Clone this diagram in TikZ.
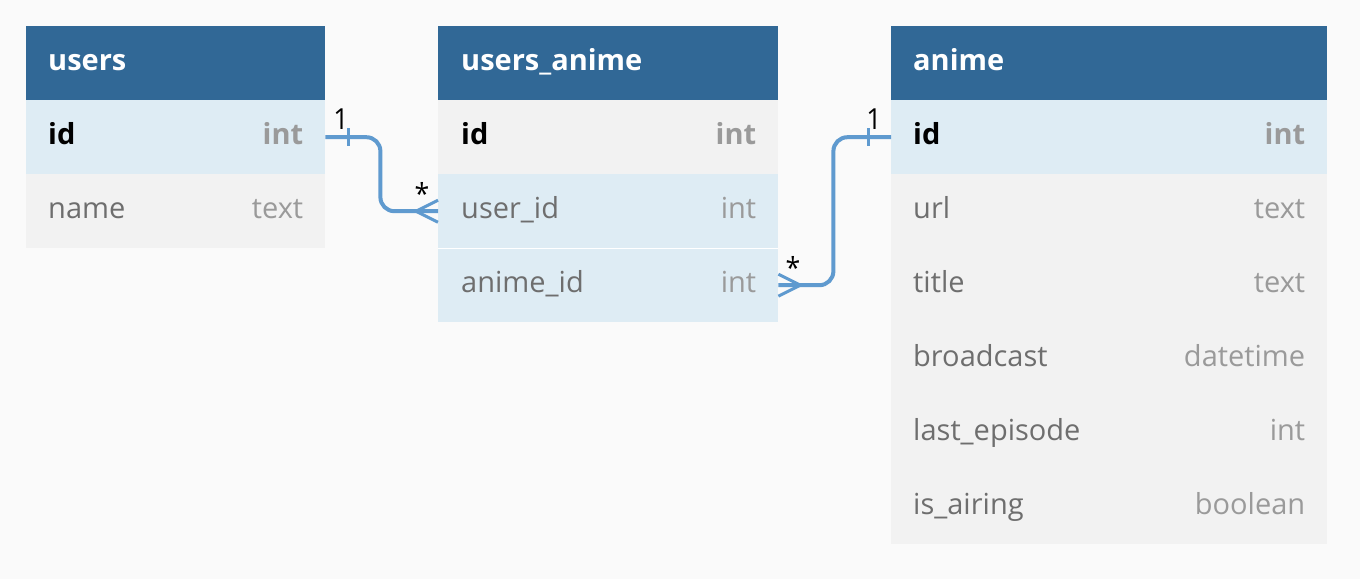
\documentclass[tikz,border=0pt]{standalone}
\usepackage{fontspec}
\setmainfont{Open Sans}
\usetikzlibrary{calc}
\definecolor{hdr}{HTML}{316896}
\definecolor{keyrow}{HTML}{DEECF4}
\definecolor{plainrow}{HTML}{F2F2F2}
\definecolor{fieldtxt}{HTML}{6E6E6E}
\definecolor{typetxt}{HTML}{9A9A9A}
\definecolor{linkcol}{HTML}{5F9ACF}
\definecolor{bgcol}{HTML}{FAFAFA}
\tikzset{
  row/.style={anchor=north west, minimum height=74pt, inner sep=0pt, minimum width=#1},
  hdrtxt/.style={anchor=base west, inner sep=0pt, text=white, font=\fontsize{29}{34}\selectfont\bfseries},
  keyname/.style={anchor=base west, inner sep=0pt, text=black, font=\fontsize{29}{34}\selectfont\bfseries},
  keytype/.style={anchor=base east, inner sep=0pt, text=typetxt, font=\fontsize{29}{34}\selectfont\bfseries},
  fname/.style={anchor=base west, inner sep=0pt, text=fieldtxt, font=\fontsize{29}{34}\selectfont},
  ftype/.style={anchor=base east, inner sep=0pt, text=typetxt, font=\fontsize{29}{34}\selectfont},
  link/.style={draw=linkcol, line width=4pt},
  mult/.style={inner sep=0pt, font=\fontsize{29}{32}\selectfont\addfontfeatures{FakeStretch=0.92}},
}
\begin{document}
\begin{tikzpicture}[x=1pt,y=-1pt]
  \useasboundingbox (0,0) rectangle (1360,579);
  \fill[bgcol] (0,0) rectangle (1360,579);
  % users
  \node[row=299pt, fill=hdr] (users) at (26,26) {};
  \node[hdrtxt] (users-t) at ($(users.west)+(22,7)$) {users};
  \node[row=299pt, fill=keyrow] (users-id) at (26,100) {};
  \node[keyname] (users-id-n) at ($(users-id.west)+(22,7)$) {id};
  \node[keytype] (users-id-t) at ($(users-id.east)+(-22,7)$) {int};
  \node[row=299pt, fill=plainrow] (users-name) at (26,174) {};
  \node[fname] (users-name-n) at ($(users-name.west)+(22,7)$) {name};
  \node[ftype] (users-name-t) at ($(users-name.east)+(-22,7)$) {text};
  % users_anime
  \node[row=340pt, fill=hdr] (ua) at (438,26) {};
  \node[hdrtxt] (ua-t) at ($(ua.west)+(23,7)$) {users\_anime};
  \node[row=340pt, fill=plainrow] (ua-id) at (438,100) {};
  \node[keyname] (ua-id-n) at ($(ua-id.west)+(23,7)$) {id};
  \node[keytype] (ua-id-t) at ($(ua-id.east)+(-22,7)$) {int};
  \node[row=340pt, fill=keyrow] (ua-user) at (438,174) {};
  \node[fname] (ua-user-n) at ($(ua-user.west)+(23,7)$) {user\_id};
  \node[ftype] (ua-user-t) at ($(ua-user.east)+(-22,7)$) {int};
  \node[row=340pt, fill=keyrow] (ua-anime) at (438,248) {};
  \node[fname] (ua-anime-n) at ($(ua-anime.west)+(23,7)$) {anime\_id};
  \node[ftype] (ua-anime-t) at ($(ua-anime.east)+(-22,7)$) {int};
  \draw[white, line width=0.6pt] (ua-anime.north west) -- (ua-anime.north east);
  % anime
  \node[row=436pt, fill=hdr] (anime) at (891,26) {};
  \node[hdrtxt] (anime-t) at ($(anime.west)+(22,7)$) {anime};
  \node[row=436pt, fill=keyrow] (anime-id) at (891,100) {};
  \node[keyname] (anime-id-n) at ($(anime-id.west)+(22,7)$) {id};
  \node[keytype] (anime-id-t) at ($(anime-id.east)+(-22,7)$) {int};
  \foreach \f/\t [count=\i] in {url/text, title/text, broadcast/datetime, last\_episode/int, is\_airing/boolean} {
    \node[row=436pt, fill=plainrow] (anime-r\i) at (891,100+74*\i) {};
    \node[fname] (anime-r\i-n) at ($(anime-r\i.west)+(22,7)$) {\f};
    \node[ftype] (anime-r\i-t) at ($(anime-r\i.east)+(-22,7)$) {\t};
  }
  % users.id 1 -- * users_anime.user_id
  \draw[link, rounded corners=14pt] (users-id.east) -- ++(55,0) |- (ua-user.west);
  \draw[link, line width=3pt] ($(users-id.east)+(23,-9)$) -- ++(0,18);
  \draw[link, line width=3pt] ($(ua-user.west)+(-22,0)$) -- ($(ua-user.west)+(0,-11)$);
  \draw[link, line width=3pt] ($(ua-user.west)+(-22,0)$) -- ($(ua-user.west)+(0,11)$);
  \node[mult] (m1) at (341,119) {1};
  \node[mult] (m2) at (422,193) {*};
  % users_anime.anime_id * -- 1 anime.id
  \draw[link, rounded corners=14pt] (ua-anime.east) -- ++(55,0) |- (anime-id.west);
  \draw[link, line width=3pt] ($(anime-id.west)+(-23,-9)$) -- ++(0,18);
  \draw[link, line width=3pt] ($(ua-anime.east)+(22,0)$) -- ($(ua-anime.east)+(0,-11)$);
  \draw[link, line width=3pt] ($(ua-anime.east)+(22,0)$) -- ($(ua-anime.east)+(0,11)$);
  \node[mult] (m3) at (793,267) {*};
  \node[mult] (m4) at (874,119) {1};
\end{tikzpicture}
\end{document}
